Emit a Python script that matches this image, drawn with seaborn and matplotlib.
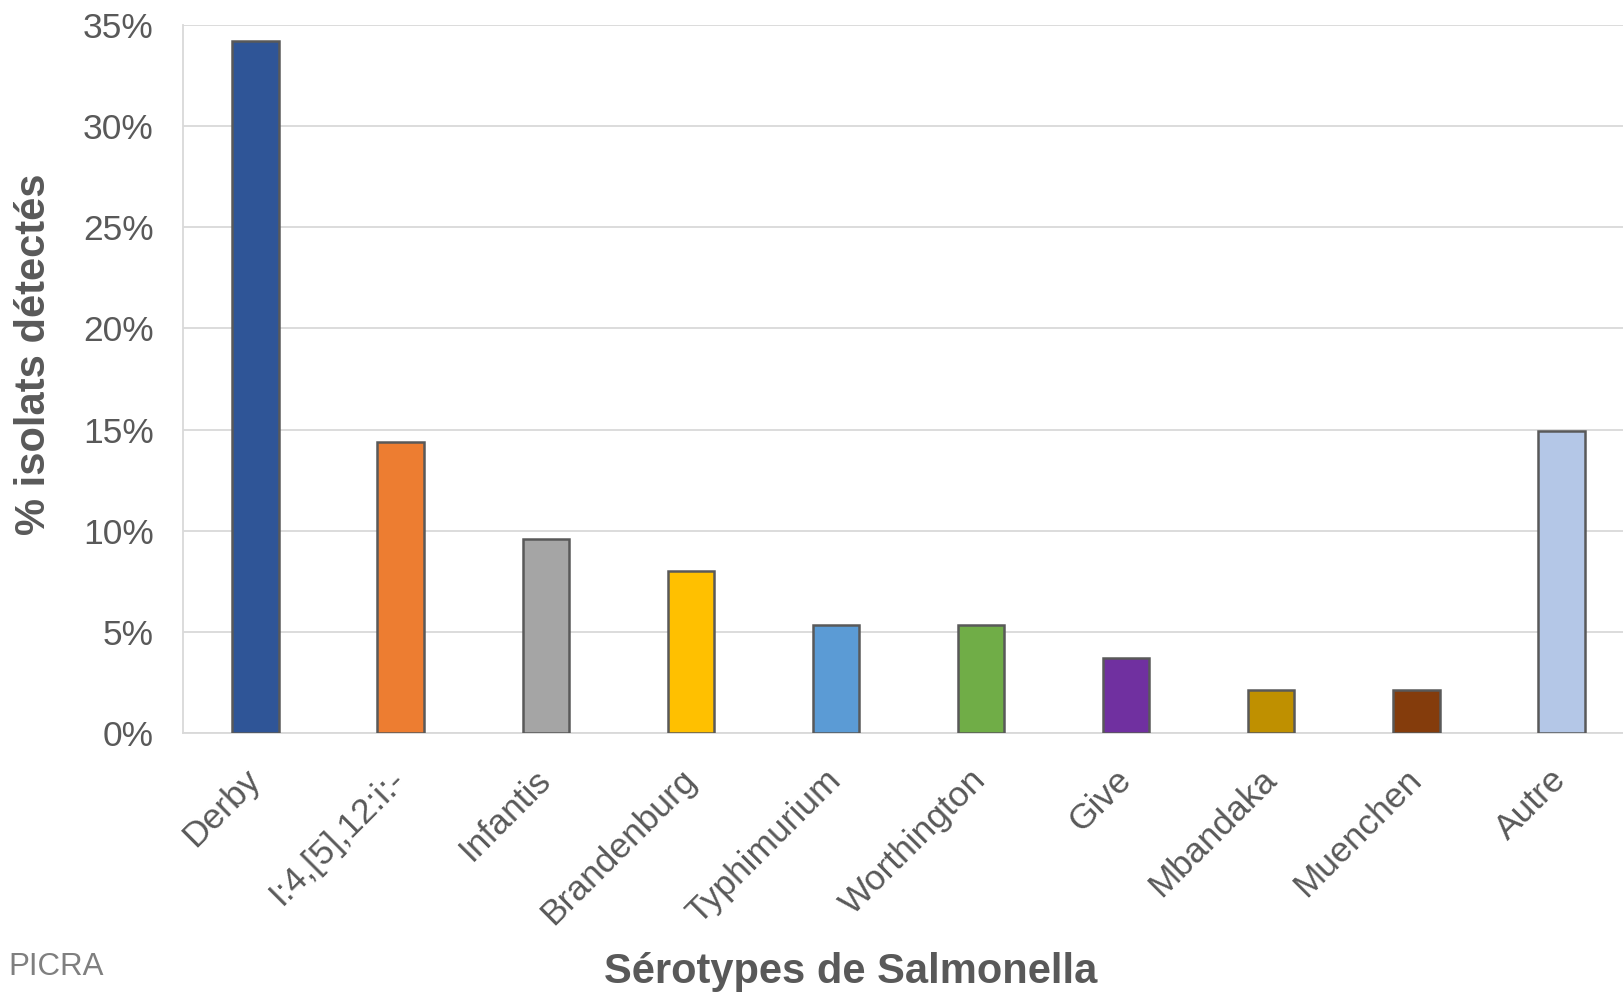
import matplotlib
matplotlib.use("Agg")
import matplotlib.pyplot as plt
import seaborn as sns
import pandas as pd
from matplotlib.ticker import FuncFormatter

# Share of detected isolates per Salmonella serotype (%)
serotypes = ["Derby", "I:4,[5],12:i:-", "Infantis", "Brandenburg", "Typhimurium",
             "Worthington", "Give", "Mbandaka", "Muenchen", "Autre"]
percent_isolates = [34.2, 14.4, 9.6, 8.0, 5.35, 5.35, 3.7, 2.14, 2.14, 14.95]
bar_colors = ["#2F5597", "#ED7D31", "#A5A5A5", "#FFC000", "#5B9BD5",
              "#70AD47", "#7030A0", "#BF9000", "#843C0C", "#B4C7E7"]
y_ticks = [0, 5, 10, 15, 20, 25, 30, 35]

df = pd.DataFrame({"serotype": serotypes, "pct": percent_isolates})

sns.set_style("white")
plt.rcParams["font.family"] = ["Liberation Sans", "DejaVu Sans"]

W, H = 1624, 992
fig = plt.figure(figsize=(W / 100, H / 100), dpi=100)
ax = fig.add_axes([183 / W, (H - 733) / H, 1451 / W, 708 / H])

sns.barplot(data=df, x="serotype", y="pct", hue="serotype",
            palette=dict(zip(serotypes, bar_colors)), legend=False,
            saturation=1, width=0.32, edgecolor="#595959", linewidth=1.8,
            ax=ax, zorder=3)

ax.set_xlim(-0.5, len(serotypes) - 0.5)
ax.set_ylim(0, 35)
ax.set_yticks(y_ticks)
ax.yaxis.set_major_formatter(FuncFormatter(lambda v, _: f"{v:.0f}%"))
ax.grid(axis="y", color="#D9D9D9", linewidth=1.3, zorder=0)
ax.set_axisbelow(True)

for side in ["top", "right"]:
    ax.spines[side].set_visible(False)
ax.spines["left"].set_color("#D9D9D9")
ax.spines["left"].set_linewidth(1.3)
ax.spines["bottom"].set_color("#D9D9D9")
ax.spines["bottom"].set_linewidth(1.3)

ax.tick_params(axis="y", length=0, pad=21, labelsize=25.5, labelcolor="#595959")
ax.tick_params(axis="x", length=0, pad=30, labelsize=25.5, labelcolor="#595959")
for lbl in ax.get_xticklabels():
    lbl.set_rotation(45)
    lbl.set_ha("right")
    lbl.set_va("center")
    lbl.set_rotation_mode("anchor")

ax.set_xlabel("")
ax.set_ylabel("")

fig.text(34 / W, 1 - 354 / H, "% isolats détectés", rotation=90,
         ha="center", va="center", fontsize=30, fontweight="bold", color="#595959")
fig.text(851 / W, 1 - 972 / H, "Sérotypes de Salmonella",
         ha="center", va="center", fontsize=30, fontweight="bold", color="#595959")
fig.text(8 / W, 1 - 967 / H, "PICRA", ha="left", va="center",
         fontsize=22.5, color="#7F7F7F")

fig.savefig("out.png", dpi=100, facecolor="white")
